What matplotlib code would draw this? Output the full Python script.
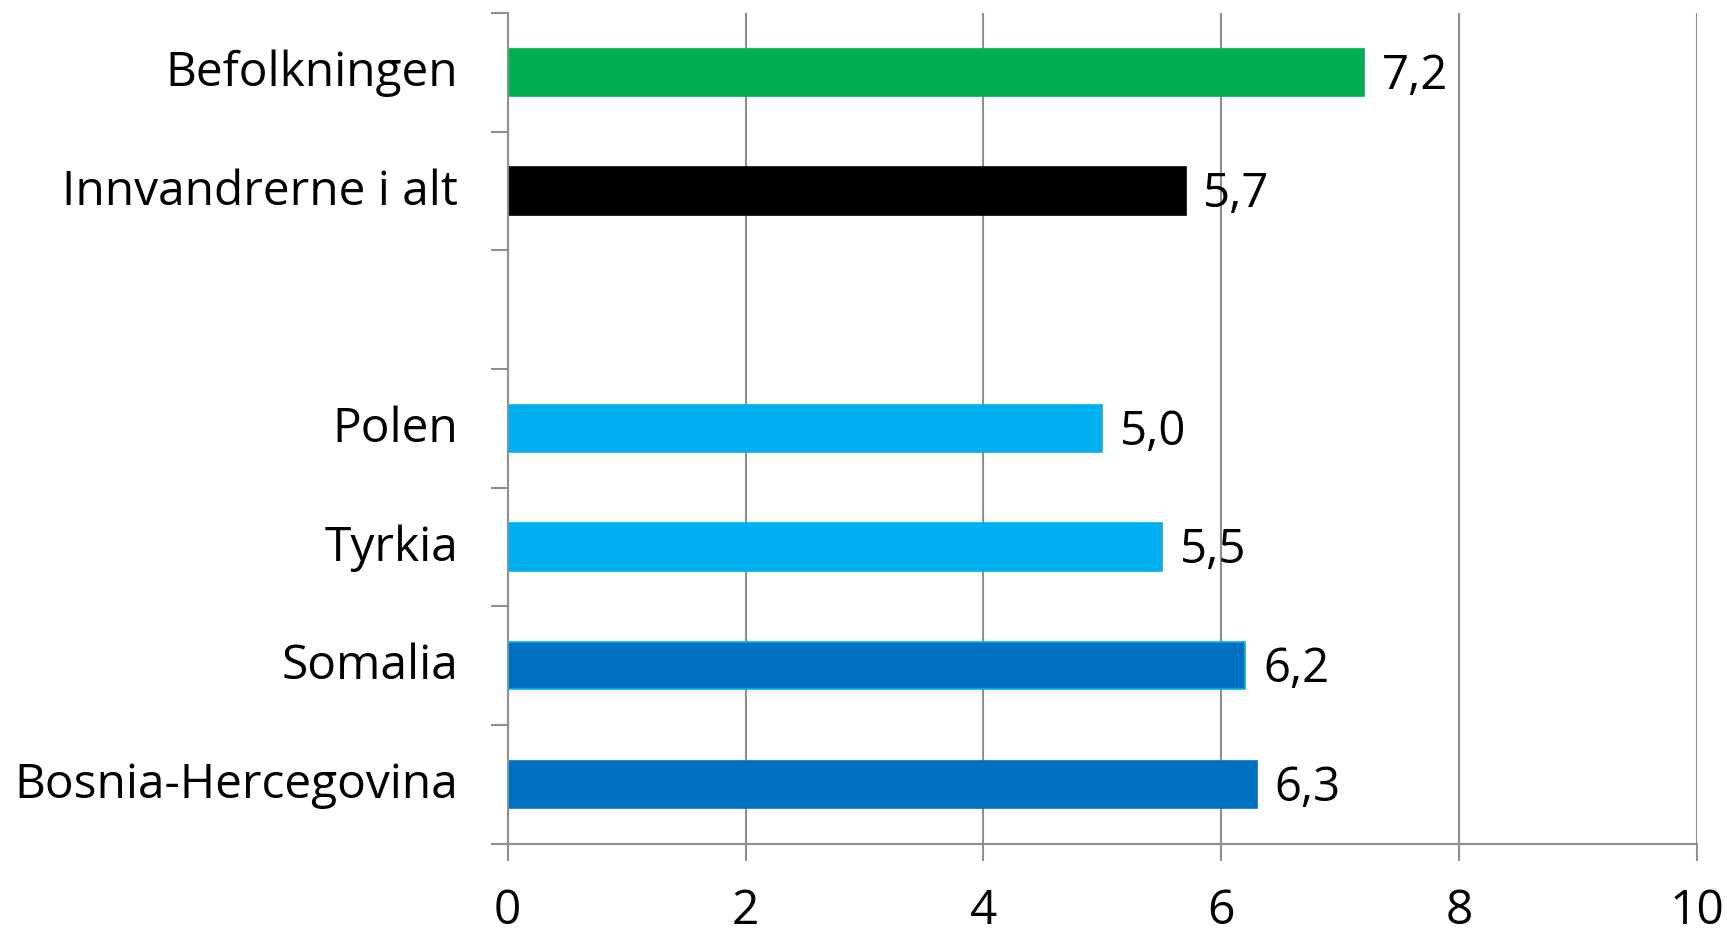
import numpy as np
import matplotlib.pyplot as plt
from matplotlib.ticker import FixedLocator
from matplotlib.transforms import ScaledTranslation

plt.rcParams['font.family'] = ['Open Sans', 'DejaVu Sans']

# data, top to bottom; None marks the empty slot
labels = ["Befolkningen", "Innvandrerne i alt", "", "Polen", "Tyrkia",
          "Somalia", "Bosnia-Hercegovina"]
values = [7.2, 5.7, None, 5.0, 5.5, 6.2, 6.3]
colors = ["#00b050", "#000000", None, "#00b0f0", "#00b0f0", "#0070c0", "#0070c0"]
edges = ["#00b050", "#000000", None, "#00b0f0", "#00b0f0", "#00b0f0", "#0070c0"]
xticks = [0, 2, 4, 6, 8, 10]

grey = "#8f8f8f"

fig = plt.figure(figsize=(17.27, 9.32), dpi=100)
ax = fig.add_axes([0.294, 0.0947, 0.6886, 0.8913])

pos = np.arange(len(labels))
for i, (v, c, e) in enumerate(zip(values, colors, edges)):
    if v is None:
        continue
    ax.barh(pos[i], v, height=0.4, color=c, edgecolor=e, linewidth=1.2, zorder=3)
    ax.text(v + 0.15, pos[i] + 0.03, f"{v:.1f}".replace(".", ","),
            va="center", ha="left", fontsize=34, zorder=4)

ax.set_xlim(0, 10)
ax.set_ylim(len(labels) - 0.5, -0.5)

ax.set_xticks(xticks)
ax.set_xticklabels([str(t) for t in xticks])
ax.set_yticks(pos)
ax.set_yticklabels(labels)
ax.yaxis.set_minor_locator(FixedLocator(np.arange(-0.5, len(labels), 1)))

ax.tick_params(axis="y", which="major", length=0, pad=35.5, labelsize=34.5)
ax.tick_params(axis="y", which="minor", length=12, width=1.5, color=grey)
ax.tick_params(axis="x", length=12, width=1.5, color=grey, pad=19.5, labelsize=34.5)

# category labels sit a little higher than matplotlib centres them
shift = ScaledTranslation(0, 0.045, fig.dpi_scale_trans)
for lbl in ax.get_yticklabels():
    lbl.set_transform(lbl.get_transform() + shift)

ax.grid(axis="x", color=grey, linewidth=1.5, zorder=0)
for side in ["top", "right"]:
    ax.spines[side].set_visible(False)
for side in ["left", "bottom"]:
    ax.spines[side].set_color(grey)
    ax.spines[side].set_linewidth(1.5)
    ax.spines[side].set_zorder(5)

fig.savefig("out.png", dpi=100)
